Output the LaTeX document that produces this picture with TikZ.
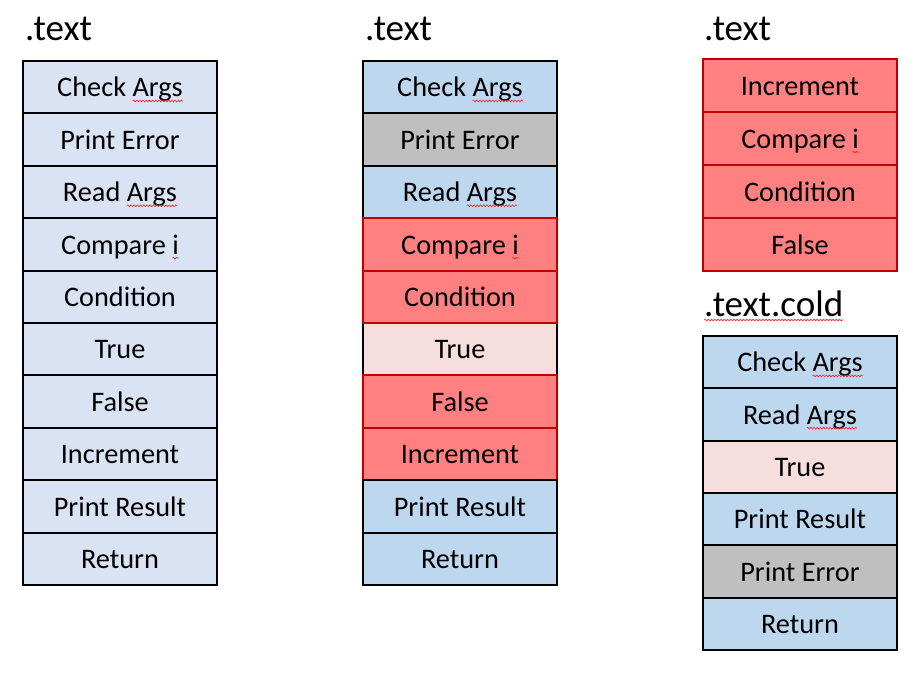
\documentclass[tikz,border=0pt]{standalone}
\usepackage{fontspec}
\setmainfont{Carlito}
\usetikzlibrary{decorations.pathmorphing}
\definecolor{blueA}{HTML}{DAE3F3}
\definecolor{blueB}{HTML}{BDD7EE}
\definecolor{grayC}{HTML}{BFBFBF}
\definecolor{redF}{HTML}{FF8080}
\definecolor{redD}{HTML}{C00000}
\definecolor{pinkT}{HTML}{F6DEDE}
\definecolor{squigc}{HTML}{FF2020}
\newcommand\sq[1]{\tikz[baseline=(w.base)]{\node[draw=none,fill=none,inner sep=0pt,outer sep=0pt,minimum width=0pt,minimum height=0pt,text height=,text depth=] (w) {#1};\draw[overlay,squigc,line width=0.6pt,decorate,decoration={snake,amplitude=0.9pt,segment length=3.2pt}] ([yshift=-4pt]w.base west) -- ([yshift=-4pt]w.base east);}}
\tikzset{
  cell/.style={draw=black,line width=2pt,anchor=north west,outer sep=0pt,inner sep=0pt,
    minimum width=194pt,minimum height=52.4pt,text height=19.5pt,text depth=0pt,
    font=\fontsize{28.3}{31}\selectfont},
  c1/.style={cell,fill=blueA},
  cb/.style={cell,fill=blueB},
  cg/.style={cell,fill=grayC},
  cr/.style={cell,fill=redF,draw=redD},
  cp/.style={cell,fill=pinkT},
  ttl/.style={anchor=base west,inner sep=0pt,font=\fontsize{37}{40}\selectfont}
}
\begin{document}
\begin{tikzpicture}[x=1pt,y=-1pt]
\useasboundingbox (0,0) rectangle (915,682);
% titles
\node[ttl] (t1) at (25,41) {.text};
\node[ttl] (t2) at (365,41) {.text};
\node[ttl] (t3) at (704,41) {.text};
\node[ttl] (t4) at (704,316) {\sq{.text.cold}};
% column 1
\node[c1] (a0) at (23,61.0) {Check \sq{Args}};
\node[c1] (a1) at (23,113.4) {Print Error};
\node[c1] (a2) at (23,165.8) {Read \sq{Args}};
\node[c1] (a3) at (23,218.2) {Compare \sq{i}};
\node[c1] (a4) at (23,270.6) {Condition};
\node[c1] (a5) at (23,323.0) {True};
\node[c1] (a6) at (23,375.4) {False};
\node[c1] (a7) at (23,427.8) {Increment};
\node[c1] (a8) at (23,480.2) {Print Result};
\node[c1] (a9) at (23,532.6) {Return};
% column 2
\node[cb] (b0) at (363,61.0) {Check \sq{Args}};
\node[cg] (b1) at (363,113.4) {Print Error};
\node[cb] (b2) at (363,165.8) {Read \sq{Args}};
\node[cp] (b5) at (363,323.0) {True};
\node[cr] (b3) at (363,218.2) {Compare \sq{i}};
\node[cr] (b4) at (363,270.6) {Condition};
\node[cr] (b6) at (363,375.4) {False};
\node[cr] (b7) at (363,427.8) {Increment};
\node[cb] (b8) at (363,480.2) {Print Result};
\node[cb] (b9) at (363,532.6) {Return};
% column 3 top
\node[cr,minimum height=53pt] (c0) at (703,59) {Increment};
\node[cr,minimum height=53pt] (c1) at (703,112) {Compare \sq{i}};
\node[cr,minimum height=53pt] (c2) at (703,165) {Condition};
\node[cr,minimum height=53pt] (c3) at (703,218) {False};
% column 3 cold
\node[cb,minimum height=52.33pt] (d0) at (703,336.0) {Check \sq{Args}};
\node[cb,minimum height=52.33pt] (d1) at (703,388.33) {Read \sq{Args}};
\node[cp,minimum height=52.33pt] (d2) at (703,440.67) {True};
\node[cb,minimum height=52.33pt] (d3) at (703,493.0) {Print Result};
\node[cg,minimum height=52.33pt] (d4) at (703,545.33) {Print Error};
\node[cb,minimum height=52.33pt] (d5) at (703,597.67) {Return};
\end{tikzpicture}
\end{document}
